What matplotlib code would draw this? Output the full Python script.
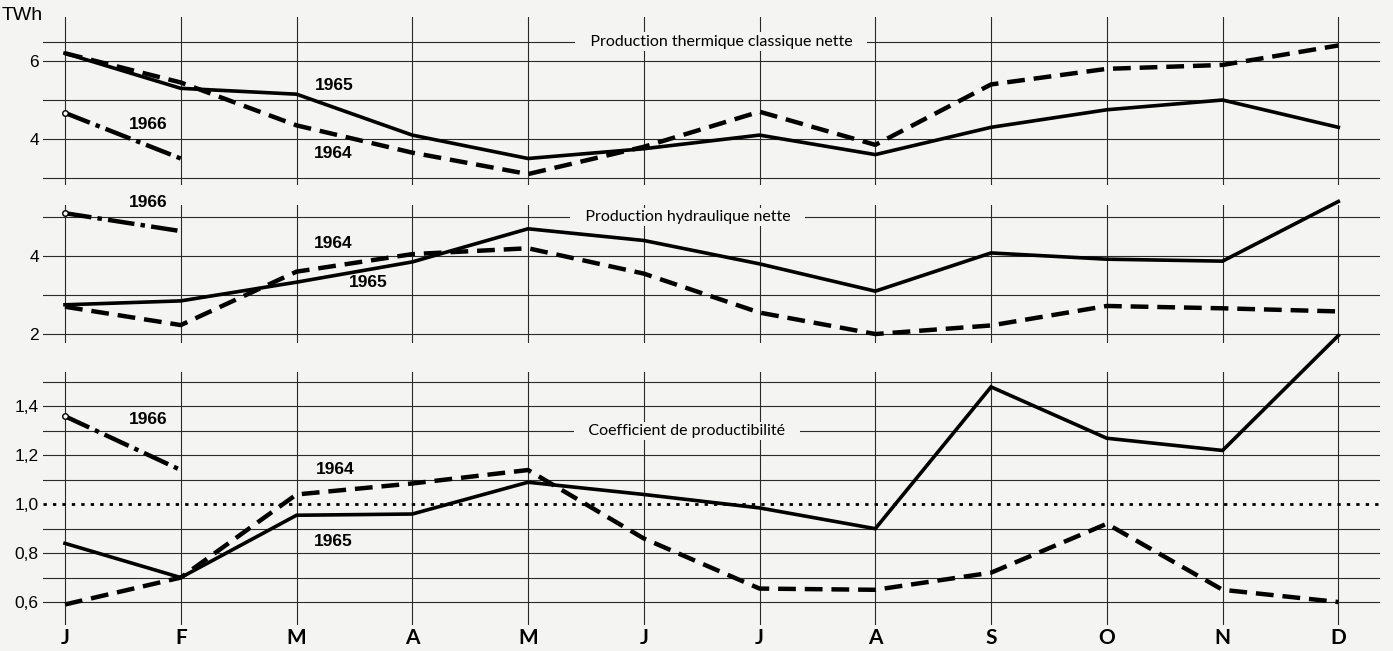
import matplotlib
matplotlib.use('Agg')
import matplotlib.pyplot as plt
# ------------------------------ #

months = ['J', 'F', 'M', 'A', 'M', 'J', 'J', 'A', 'S', 'O', 'N', 'D']

thermique1964 = [6.2, 5.45, 4.35, 3.65, 3.1, 3.8, 4.7, 3.85, 5.4, 5.8, 5.9, 6.4]
thermique1965 = [6.2, 5.3, 5.15, 4.1, 3.5, 3.75, 4.1, 3.6, 4.3, 4.75, 5.0, 4.3]
thermique1966 = [4.67, 3.5]

hydraulique1964 = [2.7, 2.23, 3.6, 4.05, 4.2, 3.55, 2.55, 2.0, 2.22, 2.72, 2.66, 2.58]
hydraulique1965 = [2.75, 2.85, 3.33, 3.85, 4.7, 4.4, 3.8, 3.1, 4.08, 3.92, 3.87, 5.4]
hydraulique1966 = [5.1, 4.64]

coefficient1964 = [0.59, 0.70, 1.04, 1.085, 1.14, 0.86, 0.655, 0.65, 0.72, 0.92, 0.65, 0.60]
coefficient1965 = [0.84, 0.70, 0.955, 0.96, 1.09, 1.04, 0.985, 0.90, 1.48, 1.27, 1.22, 1.69]
coefficient1966 = [1.36, 1.14]
# ------------------------------ #

bgColor = '#f4f4f2'
gridColor = '#2a2a2a'
narrowFont = ['Liberation Sans', 'DejaVu Sans']
titleFont = ['Lato', 'DejaVu Sans']
# ------------------------------ #

def makePanel(fig, top, bottom, ylim, yticks, ylabels):
	W, H = 1393, 651
	ax = fig.add_axes([43 / W, 1 - bottom / H, (1380 - 43) / W, (bottom - top) / H])
	ax.set_facecolor('none')
	for spine in ax.spines.values():
		spine.set_visible(False)

	ax.set_xlim(-0.19, 11.36)
	ax.set_ylim(*ylim)
	ax.set_xticks(range(len(months)))
	ax.set_xticklabels([])
	ax.set_yticks(yticks)
	ax.set_yticklabels(ylabels, family = narrowFont, fontsize = 12.5)
	ax.tick_params(length = 0, pad = 3)
	ax.grid(True, color = gridColor, linewidth = 0.8, zorder = 1)
	ax.set_axisbelow(True)
	return ax
# ------------------------------ #

def plotSeries(ax, s1964, s1965, s1966):
	x = list(range(len(months)))
	ax.plot(x, s1965, color = 'black', linewidth = 2.6, solid_joinstyle = 'miter', zorder = 5, clip_on = False)
	ax.plot(x, s1964, color = 'black', linewidth = 3.2, dashes = (4.0, 2.0), zorder = 5, clip_on = False)
	ax.plot(x[:len(s1966)], s1966, color = 'black', linewidth = 3.2, dashes = (6.0, 1.4, 1.0, 1.4), zorder = 5, clip_on = False)
	ax.plot(x[0], s1966[0], marker = 'o', markersize = 4, markerfacecolor = bgColor, markeredgecolor = 'black', zorder = 6)
# ------------------------------ #

def yearLabel(ax, x, y, txt):
	ax.text(x, y, txt, family = narrowFont, fontweight = 'bold', fontsize = 12.5, ha = 'center', va = 'center', zorder = 6)
# ------------------------------ #

def panelTitle(ax, x, y, txt):
	ax.text(
		x, y, '   ' + txt + '   ',
		family = titleFont, fontsize = 11.5, ha = 'center', va = 'center', zorder = 3,
		bbox = dict(boxstyle = 'square,pad=0.15', facecolor = bgColor, edgecolor = 'none')
	)
# ------------------------------ #

fig = plt.figure(figsize = (13.93, 6.51), dpi = 100, facecolor = bgColor)

# Production thermique classique nette
ax1 = makePanel(fig, 17, 185, (2.82, 7.13), [3, 4, 5, 6, 6.5], ['', '4', '', '6', ''])
plotSeries(ax1, thermique1964, thermique1965, thermique1966)
yearLabel(ax1, 2.33, 5.38, '1965')
yearLabel(ax1, 0.72, 4.38, '1966')
yearLabel(ax1, 2.32, 3.64, '1964')
panelTitle(ax1, 5.67, 6.5, 'Production thermique classique nette')

# Production hydraulique nette
ax2 = makePanel(fig, 205, 343, (1.77, 5.31), [2, 3, 4, 5], ['2', '', '4', ''])
plotSeries(ax2, hydraulique1964, hydraulique1965, hydraulique1966)
yearLabel(ax2, 0.72, 5.38, '1966')
yearLabel(ax2, 2.32, 4.33, '1964')
yearLabel(ax2, 2.62, 3.31, '1965')
panelTitle(ax2, 5.38, 5.0, 'Production hydraulique nette')

# Coefficient de productibilite
coefTicks = [0.6, 0.7, 0.8, 0.9, 1.0, 1.1, 1.2, 1.3, 1.4, 1.5]
coefLabels = ['0,6', '', '0,8', '', '1,0', '', '1,2', '', '1,4', '']
ax3 = makePanel(fig, 372, 625, (0.506, 1.541), coefTicks, coefLabels)
for tick, line in zip(coefTicks, ax3.get_ygridlines()):
	if abs(tick - 1.0) < 1e-6:
		line.set_linestyle((0, (1.2, 2.2)))
		line.set_linewidth(2.0)
		line.set_color('black')
plotSeries(ax3, coefficient1964, coefficient1965, coefficient1966)
yearLabel(ax3, 0.72, 1.345, '1966')
yearLabel(ax3, 2.33, 1.144, '1964')
yearLabel(ax3, 2.32, 0.849, '1965')
panelTitle(ax3, 5.37, 1.3, 'Coefficient de productibilité')

ax3.set_xticklabels(months, family = titleFont, fontsize = 15, fontweight = 'bold')
ax3.tick_params(axis = 'x', pad = 2)

fig.text(22 / 1393, 1 - 15 / 651, 'TWh', family = ['Liberation Sans', 'DejaVu Sans'], fontsize = 14, ha = 'center', va = 'center')

fig.savefig('out.png', dpi = 100, facecolor = bgColor)
